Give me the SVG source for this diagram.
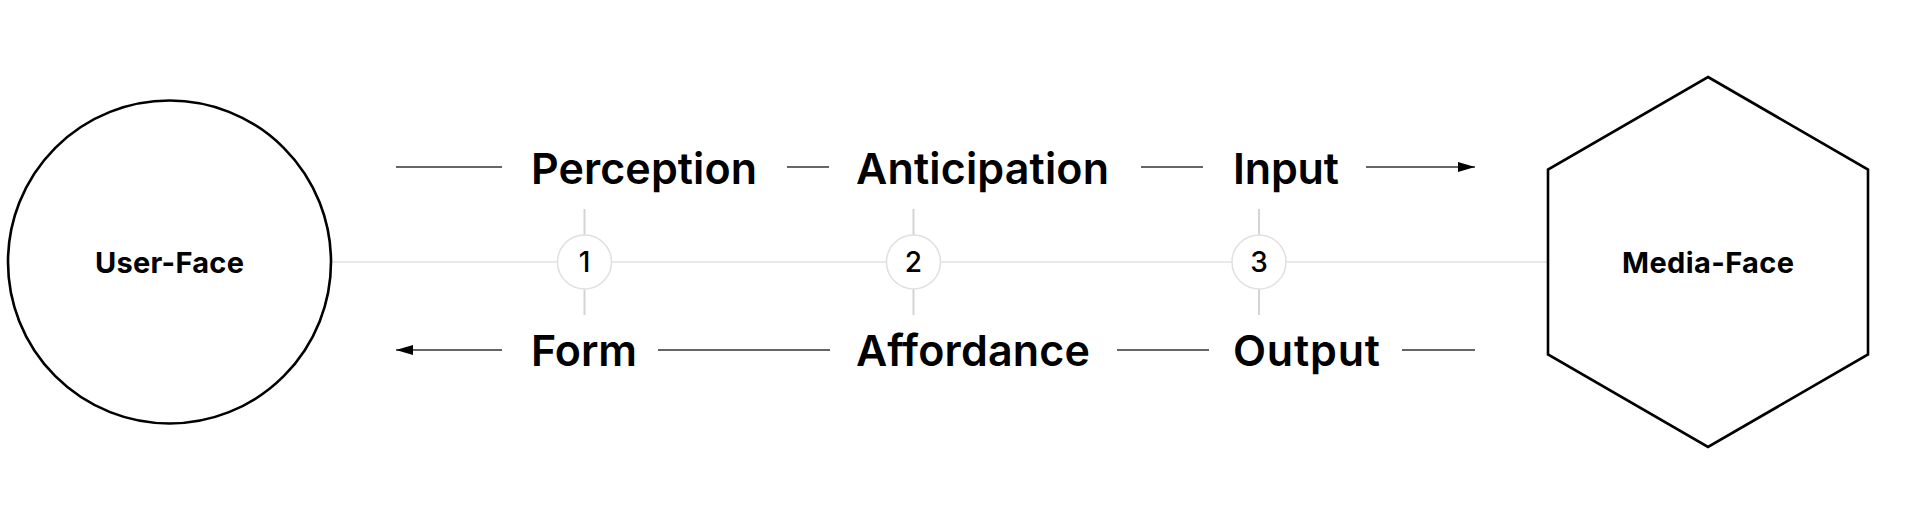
<svg xmlns="http://www.w3.org/2000/svg" width="1920" height="516" viewBox="0 0 1920 516">
<style>
.node{fill:#fff;stroke:#000;stroke-width:2.6}
.nlabel{font-family:Inter,"Liberation Sans",sans-serif;font-weight:700;font-size:29px;fill:#000;text-anchor:middle}
.term{font-family:Inter,"Liberation Sans",sans-serif;font-weight:600;font-size:43px;fill:#000}
.num{font-family:Inter,"Liberation Sans",sans-serif;font-weight:500;font-size:28px;fill:#000;text-anchor:middle}
.axis{stroke:#e2e2e2;stroke-width:1.6;fill:none}
.tick{stroke:#d4d4d4;stroke-width:2;fill:none}
.flow{stroke:#333;stroke-width:1.3;fill:none}
.badge{fill:#fff;stroke:#e0e0e0;stroke-width:1.5}
</style>
<defs>
<marker id="arr" viewBox="0 0 17 10" refX="17" refY="5" markerWidth="17" markerHeight="10" markerUnits="userSpaceOnUse" orient="auto">
<path d="M0,0 L17,5 L0,10 Z" fill="#000"/>
</marker>
</defs>
<rect width="1920" height="516" fill="#fff"/>
<g id="connectors">
<line class="axis" x1="332" y1="262" x2="1548" y2="262"/>
<line class="tick" x1="584.5" y1="209" x2="584.5" y2="236"/>
<line class="tick" x1="584.5" y1="289" x2="584.5" y2="315"/>
<line class="tick" x1="913.5" y1="209" x2="913.5" y2="236"/>
<line class="tick" x1="913.5" y1="289" x2="913.5" y2="315"/>
<line class="tick" x1="1259" y1="209" x2="1259" y2="236"/>
<line class="tick" x1="1259" y1="289" x2="1259" y2="315"/>
<line class="flow" x1="396" y1="167" x2="502" y2="167"/>
<line class="flow" x1="787" y1="167" x2="829" y2="167"/>
<line class="flow" x1="1141" y1="167" x2="1203" y2="167"/>
<line class="flow" x1="1366" y1="167" x2="1475" y2="167" marker-end="url(#arr)"/>
<line class="flow" x1="502" y1="350" x2="396" y2="350" marker-end="url(#arr)"/>
<line class="flow" x1="658" y1="350" x2="830" y2="350"/>
<line class="flow" x1="1117" y1="350" x2="1209" y2="350"/>
<line class="flow" x1="1402" y1="350" x2="1475" y2="350"/>
</g>
<g id="user-face">
<circle class="node" cx="169.5" cy="262" r="161.5"/>
<text class="nlabel" x="169.5" y="272.5" textLength="149">User-Face</text>
</g>
<g id="media-face">
<polygon class="node" points="1708,77 1868,169.5 1868,354.5 1708,447 1548,354.5 1548,169.5"/>
<text class="nlabel" x="1708" y="272.5" textLength="172">Media-Face</text>
</g>
<g id="step-1">
<circle class="badge" cx="584.5" cy="262" r="27"/>
<text class="num" x="584.5" y="272">1</text>
</g>
<g id="step-2">
<circle class="badge" cx="913.5" cy="262" r="27"/>
<text class="num" x="913.5" y="272">2</text>
</g>
<g id="step-3">
<circle class="badge" cx="1259" cy="262" r="27"/>
<text class="num" x="1259" y="272">3</text>
</g>
<g id="perception"><text class="term" x="531" y="183.5" textLength="226">Perception</text></g>
<g id="anticipation"><text class="term" x="856" y="183.5" textLength="253">Anticipation</text></g>
<g id="input"><text class="term" x="1233" y="183.5" textLength="106">Input</text></g>
<g id="form"><text class="term" x="531" y="365.5" textLength="106">Form</text></g>
<g id="affordance"><text class="term" x="856" y="365.5" textLength="234">Affordance</text></g>
<g id="output"><text class="term" x="1233" y="365.5" textLength="147">Output</text></g>
</svg>
